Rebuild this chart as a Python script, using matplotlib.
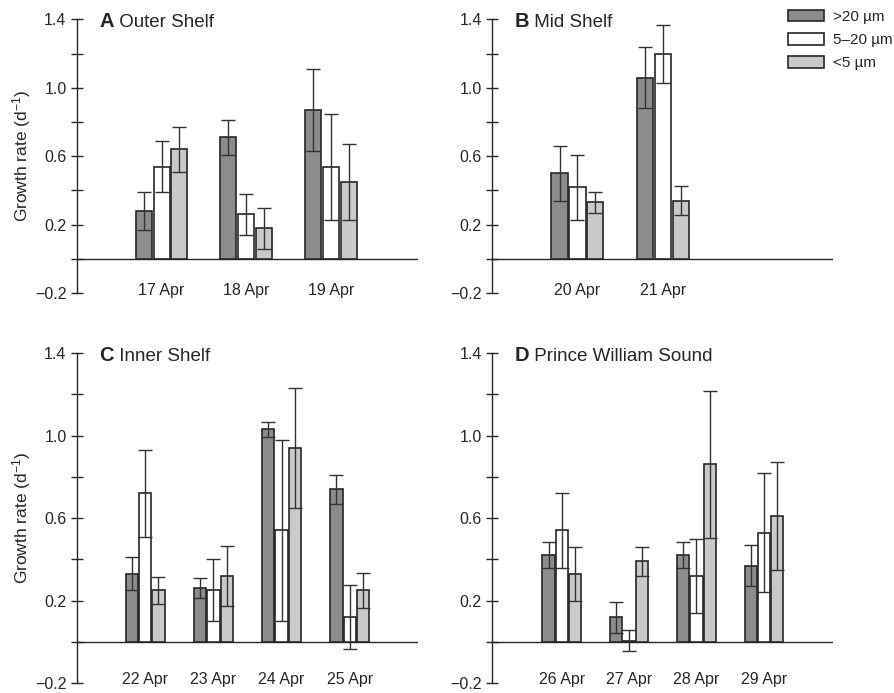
import matplotlib
matplotlib.use("Agg")
import matplotlib.pyplot as plt
import numpy as np

plt.rcParams["font.family"] = ["Liberation Sans", "DejaVu Sans"]
plt.rcParams["mathtext.fontset"] = "custom"
plt.rcParams["mathtext.rm"] = "Liberation Sans"
plt.rcParams["mathtext.it"] = "Liberation Sans"

# ─── DATA ───────────────────────────────────────────────────────────────────
SIZE_CLASSES = [">20 µm", "5–20 µm", "<5 µm"]

dates_a = ["17 Apr", "18 Apr", "19 Apr"]
big_a   = [0.28, 0.71, 0.87]
mid_a   = [0.54, 0.26, 0.54]
small_a = [0.64, 0.18, 0.45]
big_a_err   = [0.11, 0.10, 0.24]
mid_a_err   = [0.15, 0.12, 0.31]
small_a_err = [0.13, 0.12, 0.22]

dates_b = ["20 Apr", "21 Apr"]
big_b   = [0.50, 1.06]
mid_b   = [0.42, 1.20]
small_b = [0.33, 0.34]
big_b_err   = [0.16, 0.18]
mid_b_err   = [0.19, 0.17]
small_b_err = [0.06, 0.085]

dates_c = ["22 Apr", "23 Apr", "24 Apr", "25 Apr"]
big_c   = [0.33, 0.26, 1.03, 0.74]
mid_c   = [0.72, 0.25, 0.54, 0.12]
small_c = [0.25, 0.32, 0.94, 0.25]
big_c_err   = [0.08, 0.05, 0.035, 0.07]
mid_c_err   = [0.21, 0.15, 0.44, 0.155]
small_c_err = [0.065, 0.145, 0.29, 0.085]

dates_d = ["26 Apr", "27 Apr", "28 Apr", "29 Apr"]
big_d   = [0.42, 0.12, 0.42, 0.37]
mid_d   = [0.54, 0.005, 0.32, 0.53]
small_d = [0.33, 0.39, 0.86, 0.61]
big_d_err   = [0.062, 0.075, 0.062, 0.10]
mid_d_err   = [0.18, 0.05, 0.18, 0.29]
small_d_err = [0.13, 0.07, 0.355, 0.26]

YTICKS = [-0.2, 0.0, 0.2, 0.4, 0.6, 0.8, 1.0, 1.2, 1.4]
YTICK_LABELS = ["−0.2", "", "0.2", "", "0.6", "", "1.0", "", "1.4"]

# ─── STYLE ──────────────────────────────────────────────────────────────────
FILLS = ["#8c8c8c", "#ffffff", "#c9c9c9"]
EDGE  = "#262626"
TXT   = "#262626"
FS    = 11.5

fig = plt.figure(figsize=(8.95, 6.93), dpi=100)

# letter, name, dates, series, errors, axes rect, xlim, y label?, bar width, bar step
PANELS = [
    ("A", "Outer Shelf", dates_a, [big_a, mid_a, small_a], [big_a_err, mid_a_err, small_a_err],
     [0.086, 0.577, 0.381, 0.395], (-1.0, 3.03), True, 0.19, 0.21),
    ("B", "Mid Shelf", dates_b, [big_b, mid_b, small_b], [big_b_err, mid_b_err, small_b_err],
     [0.550, 0.577, 0.381, 0.395], (-1.0, 3.0), False, 0.19, 0.21),
    ("C", "Inner Shelf", dates_c, [big_c, mid_c, small_c], [big_c_err, mid_c_err, small_c_err],
     [0.086, 0.0144, 0.381, 0.476], (-1.0, 4.0), True, 0.18, 0.195),
    ("D", "Prince William Sound", dates_d, [big_d, mid_d, small_d], [big_d_err, mid_d_err, small_d_err],
     [0.550, 0.0144, 0.381, 0.476], (-1.03, 4.03), False, 0.18, 0.195),
]

legend_handles = None
for letter, name, dates, series, errs, rect, xlim, ylab, width, step in PANELS:
    ax = fig.add_axes(rect)
    x = np.arange(len(dates))
    handles = []
    for k, (vals, err, fc) in enumerate(zip(series, errs, FILLS)):
        off = (k - 1) * step
        b = ax.bar(x + off, vals, width, color=fc, edgecolor=EDGE, linewidth=1.2, zorder=2)
        ax.errorbar(x + off, vals, yerr=err, fmt="none", ecolor="#333333",
                    elinewidth=1.0, capsize=5, capthick=1.0, zorder=3)
        handles.append(b)
    if legend_handles is None:
        legend_handles = handles

    ax.axhline(0, color=EDGE, lw=1.0, zorder=1)
    ax.set_xlim(*xlim)
    ax.set_ylim(-0.2, 1.4)
    for s in ["top", "right", "bottom"]:
        ax.spines[s].set_visible(False)
    ax.spines["left"].set_color(EDGE)
    ax.spines["left"].set_linewidth(1.0)
    ax.set_xticks([])
    ax.set_yticks(YTICKS)
    ax.set_yticklabels(YTICK_LABELS)
    ax.tick_params(axis="y", direction="inout", length=9, width=1.0, color=EDGE,
                   labelsize=FS, labelcolor=TXT, pad=3)
    ax.patch.set_alpha(0)

    for xi, d in zip(x, dates):
        ax.text(xi, -0.182, d, ha="center", va="center", fontsize=FS, color=TXT)

    t = ax.text(xlim[0] + 0.066 * (xlim[1] - xlim[0]), 1.39, letter,
                fontsize=14.5, fontweight="bold", color=TXT, va="center", ha="left")
    ax.annotate(" " + name, xy=(1, 0), xycoords=t, va="bottom", ha="left",
                fontsize=13.5, color=TXT)

    if ylab:
        ax.set_ylabel("Growth rate (d$^{-1}$)", fontsize=12.5, color=TXT)
        ax.yaxis.set_label_coords(-0.129, 0.5)

fig.legend(legend_handles, SIZE_CLASSES, loc="upper left", bbox_to_anchor=(0.880, 0.986),
           frameon=False, fontsize=11, handlelength=2.4, handleheight=0.8,
           handletextpad=0.55, labelspacing=0.6, borderpad=0, borderaxespad=0,
           labelcolor=TXT)

fig.savefig("out.png", dpi=100)
